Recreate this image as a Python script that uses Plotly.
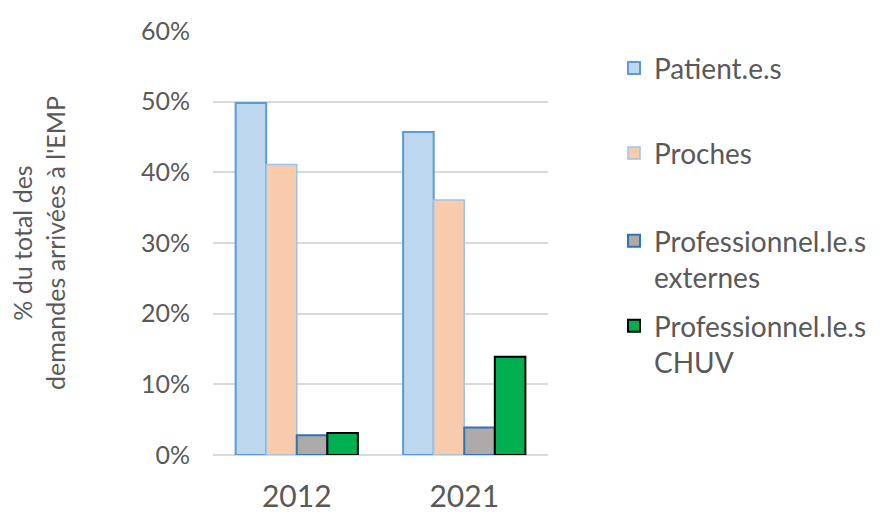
import plotly.graph_objects as go

years = ["2012", "2021"]
series_names = ["Patient.e.s", "Proches", "Professionnel.le.s<br>externes", "Professionnel.le.s<br>CHUV"]
patients = [0.498, 0.457]
proches = [0.411, 0.361]
pro_externes = [0.028, 0.039]
pro_chuv = [0.031, 0.139]
y_ticks = [0, 0.1, 0.2, 0.3, 0.4, 0.5, 0.6]
y_labels = ["0%", "10%", "20%", "30%", "40%", "50%", "60%"]

values = [patients, proches, pro_externes, pro_chuv]
fills = ["#BDD7EE", "#F8CBAD", "#AEAAAA", "#00B050"]
outlines = ["#5B9BD5", "#9DC3E6", "#2E75B6", "#000000"]
widths = [2, 1.5, 2, 2]
legend_ids = ["legend", "legend2", "legend3", "legend4"]
legend_y = [68, 153, 234, 319]
legend_anchor = ["middle", "middle", "top", "top"]

FONT = "Lato"
GREY = "#595959"

fig = go.Figure()
for name, vals, f, o, w, lg in zip(series_names, values, fills, outlines, widths, legend_ids):
    fig.add_trace(go.Bar(
        x=years, y=vals, name=name,
        marker=dict(color=f, line=dict(color=o, width=w)),
        legend=lg,
    ))

plot_top, plot_bottom = 30.7, 455
def py(ypix):
    return (plot_bottom - ypix) / (plot_bottom - plot_top)

W_left, W_right = 213, 548
def px(xpix):
    return (xpix - W_left) / (W_right - W_left)

legend_layout = {}
for lg, yp, anc in zip(legend_ids, legend_y, legend_anchor):
    ypos = py(yp) if anc == "middle" else py(yp - 18)
    legend_layout[lg] = dict(
        x=px(614), xanchor="left", y=ypos, yanchor=anc,
        font=dict(family=FONT, size=28, color=GREY),
        bgcolor="rgba(0,0,0,0)", valign="top",
    )

fig.update_layout(
    width=885, height=516,
    margin=dict(l=213, r=885 - 548, t=30.7, b=516 - 455, autoexpand=False),
    paper_bgcolor="white", plot_bgcolor="white",
    barmode="group", bargap=0.27, bargroupgap=0,
    font=dict(family=FONT, color=GREY),
    showlegend=True,
    xaxis=dict(
        tickfont=dict(family=FONT, size=30, color=GREY),
        showgrid=False, showline=False, ticks="",
        ticklabelstandoff=21, automargin=False,
    ),
    yaxis=dict(
        range=[0, 0.6], tickvals=y_ticks, ticktext=y_labels,
        tickfont=dict(family=FONT, size=25, color=GREY),
        showgrid=True, gridcolor="#D9D9D9", gridwidth=1.5,
        zeroline=True, zerolinecolor="#D9D9D9", zerolinewidth=1.5,
        showline=False, ticks="", ticklabelstandoff=22, automargin=False,
        title=dict(text="% du total des<br>demandes arrivées à l'EMP",
                   font=dict(family=FONT, size=25, color=GREY), standoff=68),
    ),
    **legend_layout,
)

fig.write_html("out.html", config={"displayModeBar": False},
               post_script="document.body.style.margin='0';")
